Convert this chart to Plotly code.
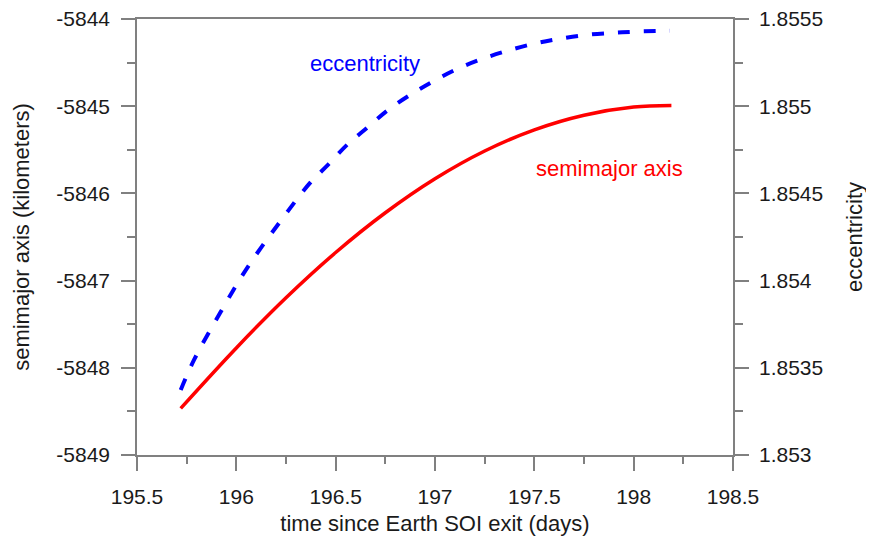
import plotly.graph_objects as go

# ---- data ----
sma_time = [195.72, 196.0, 196.25, 196.5, 196.75, 197.0, 197.25, 197.5,
            197.75, 198.0, 198.19]
sma_km = [-5848.465, -5847.772, -5847.197, -5846.678, -5846.222, -5845.832,
          -5845.514, -5845.271, -5845.103, -5845.010, -5844.992]

ecc_time = [195.720, 195.787, 195.918, 196.054, 196.215, 196.371, 196.461,
            196.557, 196.663, 196.763, 196.874, 196.985, 197.111, 197.237,
            197.362, 197.493, 197.619, 197.755, 197.891, 198.017, 198.183]
ecc_val = [1.853373, 1.853545, 1.853814, 1.854072, 1.854330, 1.854560,
           1.854663, 1.854778, 1.854881, 1.854978, 1.855064, 1.855139,
           1.855213, 1.855271, 1.855317, 1.855357, 1.855385, 1.855408,
           1.855420, 1.855428, 1.855432]

x_ticks = [195.5, 196, 196.5, 197, 197.5, 198, 198.5]
x_tick_labels = ["195.5", "196", "196.5", "197", "197.5", "198", "198.5"]
y_left_ticks = [-5849, -5848, -5847, -5846, -5845, -5844]
y_left_labels = ["-5849", "-5848", "-5847", "-5846", "-5845", "-5844"]
y_right_ticks = [1.853, 1.8535, 1.854, 1.8545, 1.855, 1.8555]
y_right_labels = ["1.853", "1.8535", "1.854", "1.8545", "1.855", "1.8555"]

FONT = "Liberation Sans, Arial, sans-serif"
AX = "#808080"
TXT = "#1a1a1a"

fig = go.Figure()
fig.add_trace(go.Scatter(x=sma_time, y=sma_km, mode="lines",
                         line=dict(color="#ff0000", width=3.5, shape="spline"),
                         yaxis="y", showlegend=False, hoverinfo="skip"))
fig.add_trace(go.Scatter(x=ecc_time, y=ecc_val, mode="lines",
                         line=dict(color="#0000ff", width=4, dash="12px,14px", shape="spline"),
                         yaxis="y2", showlegend=False, hoverinfo="skip"))

common = dict(showgrid=False, zeroline=False, showline=True, linecolor=AX,
              linewidth=1.6, ticks="outside", ticklen=14, tickwidth=1.6,
              tickcolor=AX, ticklabeloverflow="allow",
              tickfont=dict(family=FONT, size=21, color=TXT))

fig.update_layout(
    width=866, height=540,
    margin=dict(l=129, r=141, t=11, b=93, autoexpand=False),
    paper_bgcolor="white", plot_bgcolor="white",
    font=dict(family=FONT, size=21, color=TXT),
    xaxis=dict(range=[195.5, 198.5], tickmode="array", tickvals=x_ticks,
               ticktext=x_tick_labels, mirror=True, ticklabelstandoff=8,
               minor=dict(dtick=0.25, ticks="outside", ticklen=7, tickwidth=1.6, tickcolor=AX),
               title=dict(text="time since Earth SOI exit (days)",
                          font=dict(family=FONT, size=22, color=TXT), standoff=9),
               **common),
    yaxis=dict(range=[-5849, -5844], tickmode="array", tickvals=y_left_ticks,
               ticktext=y_left_labels, ticklabelstandoff=7,
               minor=dict(dtick=0.5, ticks="outside", ticklen=8, tickwidth=1.6, tickcolor=AX),
               title=dict(text="semimajor axis (kilometers)",
                          font=dict(family=FONT, size=22, color=TXT), standoff=21),
               **common),
    yaxis2=dict(range=[1.853, 1.8555], tickmode="array", tickvals=y_right_ticks,
                ticktext=y_right_labels, overlaying="y", side="right", anchor="x",
                ticklabelstandoff=6,
                minor=dict(dtick=0.00025, ticks="outside", ticklen=8, tickwidth=1.6, tickcolor=AX),
                title=dict(text="eccentricity",
                           font=dict(family=FONT, size=22, color=TXT), standoff=24),
                **common),
    annotations=[
        dict(text="eccentricity", x=0.3826, y=0.899, xref="paper", yref="paper",
             showarrow=False, font=dict(family=FONT, size=22, color="#0000ff"),
             xanchor="center", yanchor="middle"),
        dict(text="semimajor axis", x=0.7936, y=0.658, xref="paper", yref="paper",
             showarrow=False, font=dict(family=FONT, size=22, color="#ff0000"),
             xanchor="center", yanchor="middle"),
    ],
)

fig.write_html("out.html")
